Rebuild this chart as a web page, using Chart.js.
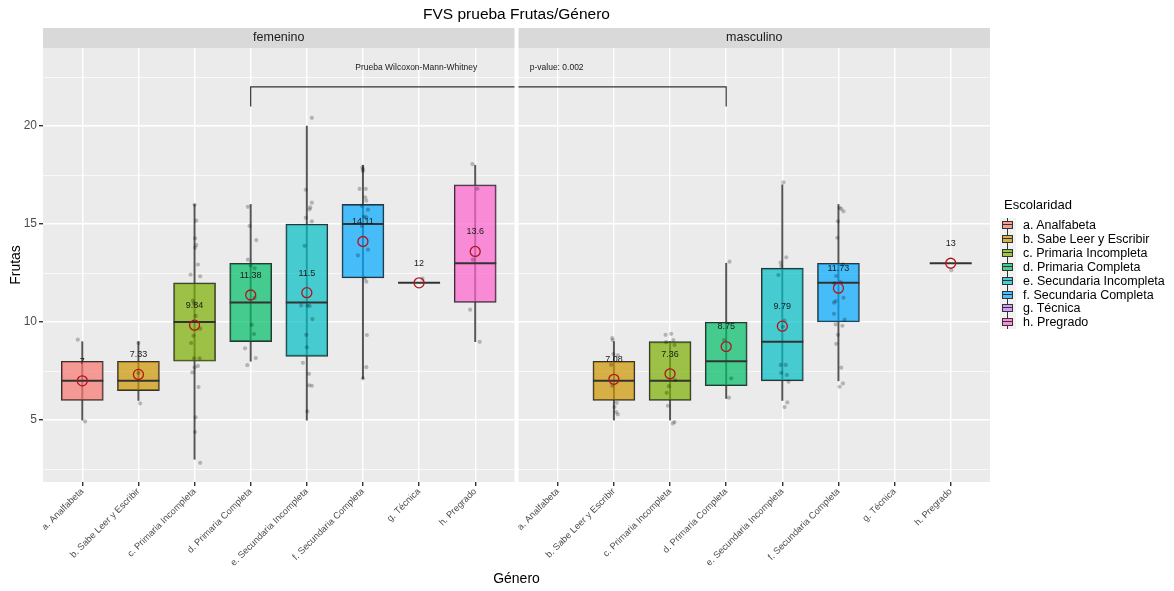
<!DOCTYPE html>
<html lang="es">
<head>
<meta charset="utf-8">
<title>FVS prueba Frutas/Género</title>
<script src="https://cdn.jsdelivr.net/npm/chart.js@4.4.1/dist/chart.umd.min.js"></script>
<style>
  body { margin: 0; background: #fff; font-family: 'Liberation Sans', Arial, sans-serif; }
  .wrap { position: relative; width: 1174px; height: 591px; overflow: hidden; }
  #chart { position: absolute; left: 0; top: 0; }
  .leg-title { position: absolute; left: 1004px; top: 197px; font-size: 13px; line-height: 16px; color: #000; }
  .leg-row { position: absolute; left: 1000px; width: 174px; height: 14px; }
  .leg-key { position: absolute; left: 0; top: 0; width: 16px; height: 14px; background: #f2f2f2; }
  .leg-key .wt { position: absolute; left: 7px; top: 0; width: 1px; height: 3px; background: #333; }
  .leg-key .wb { position: absolute; left: 7px; top: 11px; width: 1px; height: 3px; background: #333; }
  .leg-key .bx { position: absolute; left: 2px; top: 3px; width: 9px; height: 6px; border: 1px solid #333; }
  .leg-key .md { position: absolute; left: 2px; top: 6px; width: 11px; height: 1px; background: #333; }
  .leg-lab { position: absolute; left: 23px; top: 0; font-size: 12.5px; line-height: 14px; white-space: nowrap; color: #000; }
</style>
</head>
<body>
<div class="wrap" id="wrap">
  <canvas id="chart" width="1174" height="591"></canvas>
  <div class="leg-title">Escolaridad</div>
</div>
<script>
const title = 'FVS prueba Frutas/Género';
const facets = ['femenino', 'masculino'];
const categories = ['a. Analfabeta', 'b. Sabe Leer y Escribir', 'c. Primaria Incompleta', 'd. Primaria Completa',
  'e. Secundaria Incompleta', 'f. Secundaria Completa', 'g. Técnica', 'h. Pregrado'];
const hues = ['#F8766D', '#CD9600', '#7CAE00', '#00BE67', '#00BFC4', '#00A9FF', '#C77CFF', '#FF61CC'];

// femenino: box stats per category
const femQ1 = [6, 6.5, 8, 9, 8.25, 12.25, 12, 11];
const femMed = [7, 7, 10, 11, 11, 15, 12, 13];
const femQ3 = [8, 8, 12, 13, 15, 16, 12, 17];
const femLo = [5, 6, 3, 8, 5, 7.1, 12, 9];
const femHi = [9, 9, 16, 16, 20, 18, 12, 18];
const femMean = [7, 7.33, 9.84, 11.38, 11.5, 14.11, 12, 13.6];

// masculino (no data for a. and g.)
const mascQ1 = [null, 6, 6, 6.75, 7, 10, null, 13];
const mascMed = [null, 7, 7, 8, 9, 12, null, 13];
const mascQ3 = [null, 8, 9, 10, 12.75, 13, null, 13];
const mascLo = [null, 5, 5, 6.1, 6, 7, null, 13];
const mascHi = [null, 9, 9, 13, 17, 16, null, 13];
const mascMean = [null, 7.08, 7.36, 8.75, 9.79, 11.73, null, 13];

// jittered observations: [category, x jitter, value]
const femJitter = [
  [0, -0.08, 9.1], [0, 0.05, 4.93],
  [1, 0, 8.93], [1, 0.03, 5.85], [1, 0, 7.4],
  [2, 0, 15.98], [2, 0.03, 15.17], [2, 0.01, 14.27], [2, 0.03, 13.93], [2, 0.01, 13.79], [2, 0.06, 12.93],
  [2, -0.07, 12.42], [2, 0.1, 12.33], [2, -0.03, 11.09], [2, -0.01, 10.95], [2, 0.02, 10.31], [2, 0.1, 9.66],
  [2, -0.02, 9.3], [2, -0.06, 8.93], [2, -0.01, 8.15], [2, 0.09, 8.15], [2, 0, 7.69], [2, 0.06, 7.76],
  [2, -0.04, 7.43], [2, 0.07, 6.68], [2, 0.02, 5.14], [2, 0.01, 4.39], [2, 0.1, 2.82],
  [3, -0.05, 15.88], [3, -0.02, 14.9], [3, 0.1, 14.18], [3, -0.05, 13.18], [3, 0, 12.89], [3, 0.07, 12.74],
  [3, 0.07, 11.24], [3, 0.02, 9.86], [3, 0.06, 9.39], [3, -0.1, 8.66], [3, 0.09, 8.16], [3, -0.06, 7.8],
  [4, 0.09, 20.42], [4, -0.02, 16.75], [4, 0.09, 16.09], [4, 0.06, 15.85], [4, 0.05, 15.75], [4, -0.02, 15.32],
  [4, 0.09, 15.14], [4, -0.04, 13.89], [4, -0.1, 10.85], [4, 0.01, 10.83], [4, 0.05, 10.82], [4, 0.1, 10.15],
  [4, -0.01, 9.35], [4, 0, 8.71], [4, -0.07, 7.92], [4, 0.04, 7.36], [4, 0.04, 6.77], [4, 0.09, 6.75], [4, 0.01, 5.44],
  [5, -0.01, 17.89], [5, 0, 17.79], [5, 0, 17.7], [5, -0.06, 16.79], [5, 0.05, 16.79], [5, 0.04, 16.36],
  [5, 0.06, 16.19], [5, -0.02, 15.93], [5, 0.09, 15.73], [5, 0.02, 15.37], [5, 0.06, 15.34], [5, -0.02, 14.9],
  [5, 0.09, 13.69], [5, -0.09, 13.4], [5, 0.03, 12.23], [5, 0.06, 12.06], [5, 0.07, 9.34], [5, 0.06, 7.7], [5, 0, 7.13],
  [6, 0.06, 12.21],
  [7, -0.05, 18.06], [7, 0.04, 16.8], [7, -0.04, 13.18], [7, -0.09, 10.63], [7, 0.08, 8.99]
];
const mascJitter = [
  [1, -0.03, 9.18], [1, -0.02, 9.08], [1, -0.01, 8.37], [1, 0.07, 8.3], [1, -0.05, 7.82], [1, -0.03, 6.75],
  [1, 0.05, 5.88], [1, 0.01, 5.66], [1, 0.04, 5.41], [1, 0.07, 5.29],
  [2, -0.08, 9.35], [2, 0.02, 9.4], [2, -0.07, 8.98], [2, 0.06, 9.08], [2, 0.08, 8.83], [2, 0.09, 7.04],
  [2, -0.02, 6.73], [2, -0.06, 6.39], [2, -0.04, 5.73], [2, 0.05, 4.83], [2, 0.08, 4.9],
  [3, 0.06, 13.08], [3, -0.04, 9.08], [3, 0.09, 7.13], [3, 0.05, 6.14],
  [4, 0.02, 17.13], [4, -0.03, 13.03], [4, 0.07, 13.3], [4, -0.02, 12.86], [4, -0.07, 12.4], [4, 0.04, 10.07],
  [4, 0.01, 9.76], [4, -0.03, 7.81], [4, 0.06, 7.81], [4, -0.02, 7.41], [4, 0.08, 7.3], [4, 0.11, 6.95],
  [4, 0.09, 5.9], [4, 0.04, 5.66],
  [5, 0.02, 15.83], [5, 0.05, 15.77], [5, 0.09, 15.65], [5, -0.01, 15.14], [5, -0.02, 14.3], [5, 0.08, 12.94],
  [5, -0.04, 12.35], [5, 0.04, 12.04], [5, -0.07, 11.97], [5, 0.09, 11.24], [5, -0.05, 11.07], [5, -0.08, 10.99],
  [5, -0.08, 10.42], [5, 0.11, 10.12], [5, -0.05, 9.88], [5, 0.07, 9.81], [5, -0.01, 9.35], [5, -0.04, 8.89],
  [5, 0.05, 7.67], [5, 0.02, 6.7], [5, 0.08, 6.87],
  [7, 0.01, 12.64]
];

const yTicks = [5, 10, 15, 20];
const yMinor = [2.5, 7.5, 12.5, 17.5, 22.5];

// Wilcoxon bracket between the two "d." boxes
const testLabel = 'Prueba Wilcoxon-Mann-Whitney';
const pLabel = 'p-value: 0.002';
const bracketCat = 3;
const bracketLow = 21;
const bracketHigh = 22;
const textY = 23;

// both facets share one linear x axis; facet 2 is shifted by OFF (panel width + spacing)
const PAD = 0.7;
const OFF = 8.4713;
const X_MIN = 1 - PAD;
const X_MAX = 8 + PAD + OFF;

function rgba(hex, a) {
  const n = parseInt(hex.slice(1), 16);
  return `rgba(${n >> 16}, ${(n >> 8) & 255}, ${n & 255}, ${a})`;
}

const facetData = [
  { q1: femQ1, med: femMed, q3: femQ3, lo: femLo, hi: femHi, mean: femMean, pts: femJitter },
  { q1: mascQ1, med: mascMed, q3: mascQ3, lo: mascLo, hi: mascHi, mean: mascMean, pts: mascJitter }
];

const whiskers = [], boxes = [], boxFill = [], medians = [], means = [], jitter = [];
facetData.forEach((f, k) => {
  f.q1.forEach((q, i) => {
    if (q === null) return;
    const x = i + 1 + k * OFF;
    whiskers.push({ x, y: [f.lo[i], f.hi[i]] });
    boxes.push({ x, y: [q, f.q3[i]] });
    boxFill.push(rgba(hues[i], 0.7));
    medians.push({ x, y: f.med[i] });
    means.push({ x, y: f.mean[i] });
  });
  f.pts.forEach(([c, dx, y]) => jitter.push({ x: c + 1 + dx + k * OFF, y }));
});

const bx1 = bracketCat + 1, bx2 = bracketCat + 1 + OFF;
const bracket = [
  { x: bx1, y: bracketLow }, { x: bx1, y: bracketHigh }, { x: 8 + PAD, y: bracketHigh },
  { x: 8 + PAD + (OFF - 8.4) / 2, y: null },
  { x: X_MIN + OFF, y: bracketHigh }, { x: bx2, y: bracketHigh }, { x: bx2, y: bracketLow }
];

const FONT = "'Liberation Sans', Arial, sans-serif";
Chart.defaults.font.family = FONT;

const decor = {
  id: 'decor',
  beforeDraw(chart) {
    const { ctx, chartArea: a, scales: { x } } = chart;
    ctx.save();
    ctx.textAlign = 'center';
    ctx.textBaseline = 'middle';
    facets.forEach((name, k) => {
      const l = x.getPixelForValue(X_MIN + k * OFF);
      const r = x.getPixelForValue(8 + PAD + k * OFF);
      ctx.fillStyle = '#EBEBEB';
      ctx.fillRect(l, a.top, r - l, a.bottom - a.top);
      ctx.fillStyle = '#D9D9D9';
      ctx.fillRect(l, a.top - 20, r - l, 20);
      ctx.fillStyle = '#1A1A1A';
      ctx.font = '12.5px ' + FONT;
      ctx.fillText(name, (l + r) / 2, a.top - 10);
    });
    ctx.fillStyle = '#000';
    ctx.font = '15.5px ' + FONT;
    ctx.fillText(title, (a.left + a.right) / 2, 15);
    ctx.restore();
  },
  afterDatasetsDraw(chart) {
    const { ctx, scales: { x, y } } = chart;
    ctx.save();
    ctx.fillStyle = '#1A1A1A';
    ctx.textBaseline = 'middle';
    ctx.textAlign = 'center';
    ctx.font = '9px ' + FONT;
    means.forEach(m => {
      ctx.fillText(String(m.y), x.getPixelForValue(m.x), y.getPixelForValue(m.y + 1));
    });
    ctx.font = '8.5px ' + FONT;
    ctx.fillText(testLabel, x.getPixelForValue(6.95), y.getPixelForValue(textY));
    ctx.textAlign = 'left';
    ctx.fillText(pLabel, x.getPixelForValue(0.5 + OFF), y.getPixelForValue(textY));
    ctx.restore();
  }
};

new Chart(document.getElementById('chart'), {
  type: 'scatter',
  data: {
    datasets: [
      {
        type: 'bar', data: whiskers, grouped: false, backgroundColor: '#555',
        barPercentage: 1, categoryPercentage: 1, maxBarThickness: 1.3, order: 5
      },
      {
        type: 'bar', data: boxes, grouped: false, backgroundColor: boxFill, borderColor: '#333',
        borderWidth: 1.2, borderSkipped: false, barPercentage: 1, categoryPercentage: 1,
        maxBarThickness: 42, order: 4
      },
      { data: medians, pointStyle: 'line', pointRadius: 21, borderColor: '#333', borderWidth: 2, order: 3 },
      { data: jitter, pointRadius: 2.1, backgroundColor: 'rgba(0,0,0,0.24)', borderWidth: 0, order: 2 },
      {
        data: means, pointRadius: 5, backgroundColor: 'rgba(0,0,0,0)', borderColor: '#B5121B',
        borderWidth: 1.3, order: 1
      },
      {
        type: 'line', data: bracket, borderColor: '#333', borderWidth: 1.2, pointRadius: 0,
        spanGaps: false, fill: false, order: 0
      }
    ]
  },
  options: {
    responsive: false,
    animation: false,
    events: [],
    layout: { padding: { left: 0, right: 184, top: 48, bottom: 0 } },
    plugins: { legend: { display: false }, tooltip: { enabled: false } },
    scales: {
      x: {
        type: 'linear', min: X_MIN, max: X_MAX, offset: false,
        afterBuildTicks: (s) => {
          s.ticks = [];
          facets.forEach((f, k) => categories.forEach((c, i) => s.ticks.push({ value: i + 1 + k * OFF })));
        },
        afterFit: (s) => { s.height = 109; s.paddingLeft = 0; s.paddingRight = 0; },
        grid: { color: '#FFFFFF', lineWidth: 1.4, tickLength: 4, tickColor: '#333', offset: false },
        border: { display: false },
        ticks: {
          autoSkip: false, minRotation: 45, maxRotation: 45, padding: 0,
          color: '#4D4D4D', font: { size: 9.3 },
          callback: (v) => categories[Math.round(v > 8 + PAD ? v - OFF : v) - 1]
        },
        title: { display: true, text: 'Género', color: '#000', font: { size: 14 }, padding: { top: 0, bottom: 3 } }
      },
      y: {
        type: 'linear', min: 1.84, max: 23.98,
        afterBuildTicks: (s) => {
          s.ticks = yMinor.concat(yTicks).sort((a, b) => a - b).map(v => ({ value: v }));
        },
        afterFit: (s) => { s.width = 43; s.paddingTop = 0; s.paddingBottom = 0; },
        grid: {
          color: '#FFFFFF',
          lineWidth: (c) => (c.tick && yTicks.includes(c.tick.value) ? 1.4 : 0.7),
          tickLength: 4,
          tickColor: (c) => (c.tick && yTicks.includes(c.tick.value) ? '#333' : 'rgba(0,0,0,0)')
        },
        border: { display: false },
        ticks: {
          padding: 2, color: '#4D4D4D', font: { size: 12 },
          callback: (v) => (yTicks.includes(v) ? v : '')
        },
        title: { display: true, text: 'Frutas', color: '#000', font: { size: 14 }, padding: { top: 8, bottom: 0 } }
      }
    }
  },
  plugins: [decor]
});

// legend (ggplot style boxplot keys)
const wrap = document.getElementById('wrap');
categories.forEach((c, i) => {
  const row = document.createElement('div');
  row.className = 'leg-row';
  row.style.top = (218 + i * 13.9) + 'px';
  row.innerHTML = '<span class="leg-key"><i class="wt"></i><i class="wb"></i>' +
    '<i class="bx" style="background:' + rgba(hues[i], 0.7) + '"></i><i class="md"></i></span>' +
    '<span class="leg-lab">' + c + '</span>';
  wrap.appendChild(row);
});
</script>
</body>
</html>
